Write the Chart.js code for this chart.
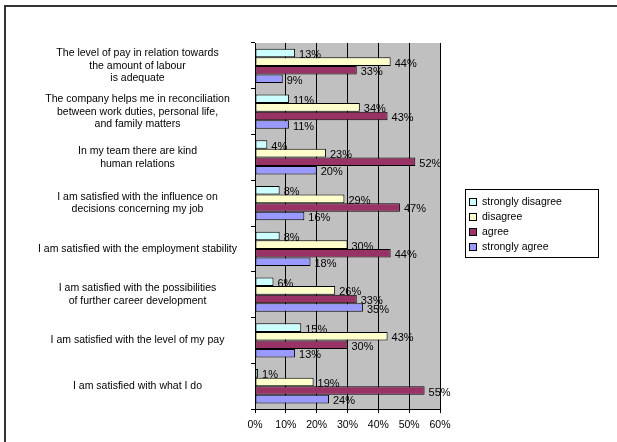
<!DOCTYPE html>
<html>
<head>
<meta charset="utf-8">
<script src="https://cdn.jsdelivr.net/npm/chart.js@4/dist/chart.umd.min.js"></script>
<style>
  html, body { margin: 0; padding: 0; background: #fff; }
  #wrap { width: 617px; height: 442px; }
</style>
</head>
<body>
<div id="wrap"><canvas id="chart" width="617" height="442"></canvas></div>
<script>
var categories = [
  ['The level of pay in relation towards', 'the amount of labour', 'is adequate'],
  ['The company helps me in reconciliation', 'between work duties, personal life,', 'and family matters'],
  ['In my team there are kind', 'human relations'],
  ['I am satisfied with the influence on', 'decisions concerning my job'],
  'I am satisfied with the employment stability',
  ['I am satisfied with the possibilities', 'of further career development'],
  'I am satisfied with the level of my pay',
  'I am satisfied with what I do'
];
var seriesNames = ['strongly disagree', 'disagree', 'agree', 'strongly agree'];
var stronglyDisagree = [13, 11, 4, 8, 8, 6, 15, 1];
var disagree = [44, 34, 23, 29, 30, 26, 43, 19];
var agree = [33, 43, 52, 47, 44, 33, 30, 55];
var stronglyAgree = [9, 11, 20, 16, 18, 35, 13, 24];
var xTicks = [0, 10, 20, 30, 40, 50, 60];

var colors = ['#ccffff', '#ffffcc', '#993366', '#9999ff'];
var font = 'Arial, "Liberation Sans", sans-serif';

var bgPlugin = {
  id: 'bg',
  beforeDraw: function(chart) {
    var c = chart.ctx, a = chart.chartArea;
    c.save();
    c.fillStyle = '#fff';
    c.fillRect(0, 0, chart.width, chart.height);
    c.fillStyle = '#333';
    c.fillRect(4, 5, chart.width - 4, 2);
    c.fillRect(4, 5, 2, chart.height - 5);
    c.fillStyle = '#c0c0c0';
    c.fillRect(a.left, a.top, a.right - a.left, a.bottom - a.top);
    c.restore();
  }
};

var valueLabels = {
  id: 'valueLabels',
  afterDatasetsDraw: function(chart) {
    var c = chart.ctx;
    c.save();
    c.font = '11px ' + font;
    c.fillStyle = '#000';
    c.textBaseline = 'middle';
    c.textAlign = 'left';
    chart.data.datasets.forEach(function(ds, i) {
      chart.getDatasetMeta(i).data.forEach(function(bar, j) {
        c.fillText(ds.data[j] + '%', bar.x + 4, bar.y + 2);
      });
    });
    c.restore();
  }
};

var boxLegend = {
  id: 'boxLegend',
  afterDraw: function(chart) {
    var c = chart.ctx;
    var x = 465, y = 189, w = 133, h = 68;
    c.save();
    c.fillStyle = '#fff';
    c.fillRect(x, y, w, h);
    c.strokeStyle = '#000';
    c.lineWidth = 1;
    c.strokeRect(x + 0.5, y + 0.5, w, h);
    c.font = '10.5px ' + font;
    c.textBaseline = 'middle';
    chart.data.datasets.forEach(function(ds, i) {
      var cy = y + 13 + i * 15;
      c.fillStyle = ds.backgroundColor;
      c.fillRect(469, cy - 4, 7, 7);
      c.strokeRect(469.5, cy - 3.5, 7, 7);
      c.fillStyle = '#000';
      c.fillText(ds.label, 482, cy);
    });
    c.restore();
  }
};

var seriesData = [stronglyDisagree, disagree, agree, stronglyAgree];

new Chart(document.getElementById('chart'), {
  type: 'bar',
  data: {
    labels: categories,
    datasets: seriesNames.map(function(name, i) {
      return {
        label: name,
        data: seriesData[i],
        backgroundColor: colors[i],
        borderColor: '#000',
        borderWidth: 1,
        borderSkipped: false,
        categoryPercentage: 0.75,
        barPercentage: 1
      };
    })
  },
  options: {
    indexAxis: 'y',
    responsive: false,
    animation: false,
    layout: { padding: { left: 0, right: 177, top: 43, bottom: 0 } },
    plugins: {
      legend: { display: false },
      tooltip: { enabled: false }
    },
    scales: {
      x: {
        min: 0,
        max: 60,
        afterBuildTicks: function(scale) {
          scale.ticks = xTicks.map(function(v) { return { value: v }; });
        },
        afterFit: function(scale) { scale.height = 32; },
        grid: { color: '#000', tickLength: 4, tickColor: '#000' },
        border: { color: '#000' },
        ticks: {
          color: '#000',
          padding: 6,
          font: { family: font, size: 10.5 },
          callback: function(v) { return v + '%'; }
        }
      },
      y: {
        afterFit: function(scale) { scale.width = 255; },
        grid: { display: true, drawOnChartArea: false, offset: true, tickLength: 4, tickColor: '#000', color: '#000' },
        border: { color: '#000' },
        ticks: {
          color: '#000',
          padding: 14,
          crossAlign: 'center',
          font: { family: font, size: 10.5, lineHeight: 1.2 }
        }
      }
    }
  },
  plugins: [bgPlugin, valueLabels, boxLegend]
});
</script>
</body>
</html>
